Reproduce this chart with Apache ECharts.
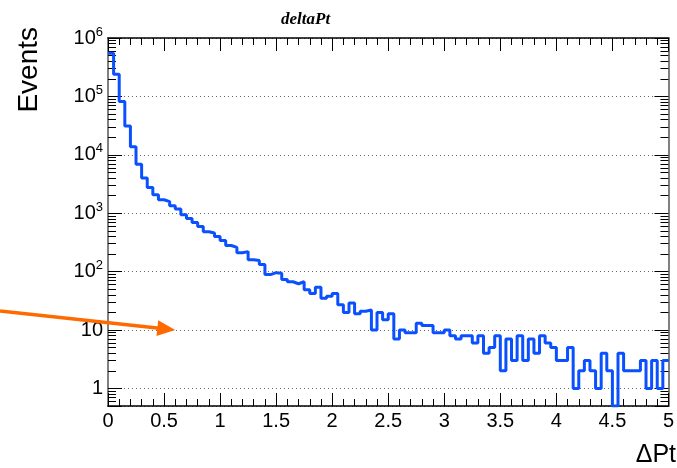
<!DOCTYPE html>
<html>
<head>
<meta charset="utf-8">
<script src="https://cdn.jsdelivr.net/npm/echarts@6/dist/echarts.min.js"></script>
<style>
html, body { margin: 0; padding: 0; background: #fff; }
#chart { width: 677px; height: 468px; }
</style>
</head>
<body>
<div id="chart"></div>
<script>
// histogram: 100 bins of 0.05 from 0 to 5
const xMin = 0;
const xMax = 5;
const binWidth = 0.05;
const yMin = 0.5;
const yMax = 1e6;
const counts = [
  550000, 240000, 82000, 31000, 13700, 6900, 4000, 2760, 2080, 1700,
  1580, 1340, 1180, 940, 810, 690, 590, 480, 460, 400,
  340, 280, 260, 210, 220, 160, 155, 132, 89, 96,
  94, 73, 67, 62, 67, 49, 42, 54, 35, 38,
  42, 27, 20, 29, 19, 21, 22, 10, 20, 15,
  19, 7, 10, 9, 9, 13, 12, 12, 9, 9,
  10, 8, 7, 8, 8, 6, 8, 4, 5, 8,
  2, 7, 3, 8, 3, 7, 4, 8, 6, 5,
  3, 3, 5, 1, 2, 3, 2, 1, 4, 2,
  0, 4, 2, 2, 2, 3, 1, 3, 1, 3
];
const arrowTip = [0.6, 10];

const chart = echarts.init(document.getElementById("chart"));

// step line points at the low edge of every bin, plus the last edge
const points = counts.map((c, i) => [+(xMin + i * binWidth).toFixed(2), Math.max(c, yMin)]);
points.push([xMax, Math.max(counts[counts.length - 1], yMin)]);

// minor ticks 2..9 in every decade (log axis)
const minorTicks = [];
for (let e = -1; e < 6; e++) {
  for (let m = 2; m <= 9; m++) {
    const v = m * Math.pow(10, e);
    if (v > yMin && v < yMax) minorTicks.push(+v.toPrecision(3));
  }
}

const font = "Liberation Sans";
const frameGray = "#808080";

function yLabel(v) {
  if (v < 1) return "";
  const e = Math.round(Math.log10(v));
  if (e === 0) return "1";
  if (e === 1) return "10";
  return "10{s|" + e + "}";
}

const logAxis = (pos, major, labels) => ({
  type: "log",
  position: pos,
  min: yMin,
  max: yMax,
  axisLine: { show: major, lineStyle: { color: frameGray, width: 2 } },
  axisTick: major
    ? { show: true, inside: true, length: 14, lineStyle: { color: "#000" } }
    : { show: true, inside: true, length: 8, customValues: minorTicks, lineStyle: { color: "#000" } },
  axisLabel: labels
    ? {
        show: true, margin: 5, formatter: yLabel, color: "#000",
        fontFamily: font, fontSize: 20,
        rich: { s: { fontFamily: font, fontSize: 13, verticalAlign: "top", padding: [0, 0, 12, 0] } }
      }
    : { show: false },
  splitLine: labels
    ? { show: true, lineStyle: { color: "#666", type: [1, 3], width: 1 } }
    : { show: false }
});

const valAxis = (pos, labels) => ({
  type: "value",
  position: pos,
  min: xMin,
  max: xMax,
  interval: 0.5,
  axisLine: { show: true, lineStyle: { color: "#000", width: 1.5 } },
  axisTick: { show: true, inside: true, length: 13, lineStyle: { color: "#000" } },
  minorTick: { show: true, splitNumber: 5, length: 7, lineStyle: { color: "#000" } },
  axisLabel: labels
    ? { show: true, margin: 5, color: "#000", fontFamily: font, fontSize: 20 }
    : { show: false },
  splitLine: { show: false }
});

chart.setOption({
  animation: false,
  backgroundColor: "#fff",
  title: {
    text: "deltaPt",
    left: 276,
    top: 6,
    textStyle: { fontFamily: "Liberation Serif", fontStyle: "italic", fontWeight: "bold", fontSize: 17, color: "#000" }
  },
  grid: { left: 108, right: 4, top: 38, bottom: 62 },
  xAxis: [valAxis("bottom", true), valAxis("top", false)],
  yAxis: [
    logAxis("left", true, true),
    logAxis("left", false, false),
    logAxis("right", true, false),
    logAxis("right", false, false)
  ],
  series: [{
    type: "line",
    step: "end",
    xAxisIndex: 0,
    yAxisIndex: 0,
    showSymbol: false,
    data: points,
    lineStyle: { color: "#0a50ff", width: 3 }
  }]
});

// annotation arrow pointing at (0.6, 10), axis titles
const tip = chart.convertToPixel({ xAxisIndex: 0, yAxisIndex: 0 }, arrowTip);
const ang = Math.atan2(19, 176);
const headLen = 18, headHalf = 8;
const bx = tip[0] - headLen * Math.cos(ang), by = tip[1] - headLen * Math.sin(ang);
const tailX = 0, tailY = tip[1] - 19 * (tip[0] - tailX) / 176;
const orange = "#ff6a00";

chart.setOption({
  graphic: [
    {
      type: "line",
      shape: { x1: tailX, y1: tailY, x2: bx + 2 * Math.cos(ang), y2: by + 2 * Math.sin(ang) },
      style: { stroke: orange, lineWidth: 3.5 },
      z: 100
    },
    {
      type: "polygon",
      shape: {
        points: [
          [tip[0], tip[1]],
          [bx - headHalf * Math.sin(ang), by + headHalf * Math.cos(ang)],
          [bx + headHalf * Math.sin(ang), by - headHalf * Math.cos(ang)]
        ]
      },
      style: { fill: orange },
      z: 100
    },
    {
      type: "text",
      x: 29,
      y: 27,
      rotation: Math.PI / 2,
      style: { text: "Events", fontFamily: font, fontSize: 28, fill: "#000", align: "right", verticalAlign: "middle" }
    },
    {
      type: "text",
      x: 676,
      y: 455,
      style: { text: "ΔPt", fontFamily: font, fontSize: 25, fill: "#000", align: "right", verticalAlign: "middle" }
    }
  ]
});
</script>
</body>
</html>
